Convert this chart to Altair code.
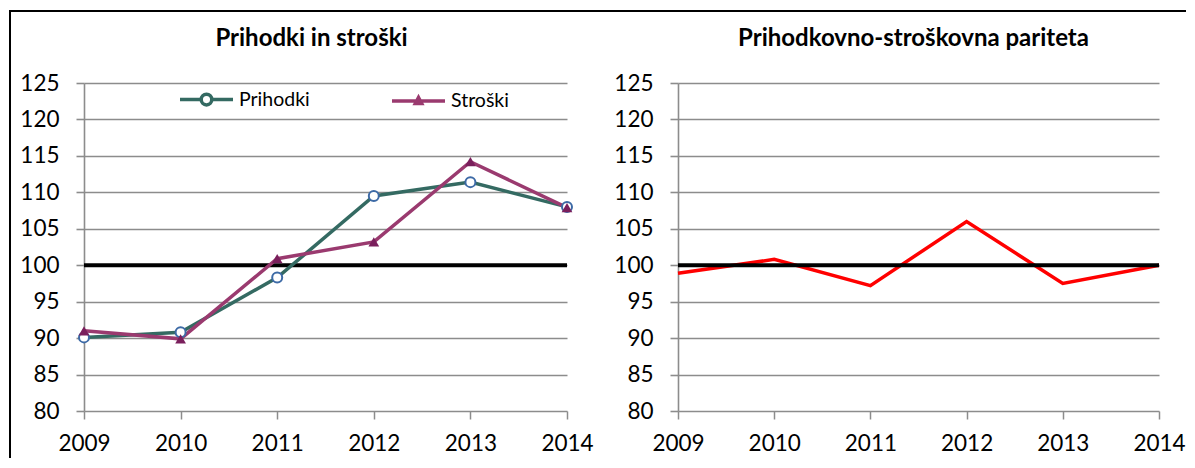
import altair as alt
import pandas as pd

years = ["2009", "2010", "2011", "2012", "2013", "2014"]
prihodki = [90.1, 90.8, 98.3, 109.5, 111.4, 108.0]
stroski = [91.0, 89.9, 100.9, 103.2, 114.2, 107.9]
pariteta = [98.9, 100.8, 97.2, 106.0, 97.5, 100.0]
ref_100 = [100, 100, 100, 100, 100, 100]
series_names = ["Prihodki", "Stroški"]
y_ticks = [80, 85, 90, 95, 100, 105, 110, 115, 120, 125]

TEAL = "#346A62"
PURPLE = "#9A3A6F"
PURPLE_MARK = "#7A1F5C"
BLUE = "#3D6AA6"
RED = "#FF0000"
GRID = "#8C8C8C"
FONT = "Lato"
LBL = 22.5

W1, W2, H = 483, 481, 328

df_lr = pd.DataFrame({
    "year": years * 2,
    "value": prihodki + stroski,
    "series": [series_names[0]] * 6 + [series_names[1]] * 6,
})
df_p = pd.DataFrame({"year": years, "value": prihodki})
df_s = pd.DataFrame({"year": years, "value": stroski})
df_par = pd.DataFrame({"year": years, "value": pariteta})
df_ref = pd.DataFrame({"year": years, "value": ref_100})
dummy = pd.DataFrame({"a": [0]})

x_enc = alt.X("year:O", scale=alt.Scale(type="point", padding=0),
              axis=alt.Axis(title=None, labelAngle=0, domain=False, grid=False,
                            tickColor=GRID, tickWidth=1.5, tickSize=8,
                            labelPadding=13, labelFont=FONT, labelFontSize=LBL,
                            labelColor="black"))
y_enc = alt.Y("value:Q", scale=alt.Scale(domain=[80, 125], nice=False, zero=False),
              axis=alt.Axis(title=None, values=y_ticks, grid=True, gridColor=GRID,
                            gridWidth=1.6, domain=True, domainColor=GRID,
                            domainWidth=1.6, tickColor=GRID, tickWidth=1.6,
                            tickSize=8, labelPadding=17, labelFont=FONT,
                            labelFontSize=LBL, labelColor="black"))

circle_path = ("M-1,0L-0.2,0M0.2,0L1,0M0.2,0A0.2 0.2 0 1 1 -0.2,0"
               "A0.2 0.2 0 1 1 0.2,0Z")
tri_path = "M-1,0L1,0M-0.12,0.1L0,-0.13L0.12,0.1Z"

legend = alt.Legend(
    title=None, orient="none", legendX=94, legendY=-12, direction="horizontal",
    symbolSize=2809, symbolStrokeWidth=3.5, labelFont=FONT, labelFontSize=19.5,
    labelColor="black", labelOffset=4, columnPadding=75, padding=0,
    symbolType=alt.ExprRef(expr=f"datum.value === 'Prihodki' ? '{circle_path}' : '{tri_path}'"),
    symbolFillColor=alt.ExprRef(expr=f"datum.value === 'Prihodki' ? '#ffffff' : '{PURPLE_MARK}'"),
    symbolOpacity=1,
)

ref_left = alt.Chart(df_ref).mark_line(color="black", strokeWidth=4).encode(x=x_enc, y=y_enc)
lines = alt.Chart(df_lr).mark_line(strokeWidth=3.5).encode(
    x=x_enc, y=y_enc,
    color=alt.Color("series:N", scale=alt.Scale(domain=series_names, range=[TEAL, PURPLE]),
                    legend=legend),
)
circles = alt.Chart(df_p).mark_point(shape="circle", filled=True, fill="white", stroke=BLUE,
                                     strokeWidth=2, size=100, opacity=1).encode(x=x_enc, y=y_enc)
tris = alt.Chart(df_s).mark_point(shape="triangle-up", filled=True, color=PURPLE_MARK,
                                  size=115, opacity=1).encode(x=x_enc, y=y_enc)

frame_left_v = alt.Chart(dummy).mark_rule(color="black", strokeWidth=2).encode(
    x=alt.value(-74), y=alt.value(-72), y2=alt.value(375))
frame_left_h = alt.Chart(dummy).mark_rule(color="black", strokeWidth=2).encode(
    x=alt.value(-75), x2=alt.value(512), y=alt.value(-72))

title_kw = dict(anchor="middle", frame="group", baseline="middle", offset=-53,
                font=FONT, fontSize=24, fontWeight="bold", color="black")

left = alt.layer(frame_left_v, frame_left_h, ref_left, lines, circles, tris).properties(
    width=W1, height=H, title=alt.TitleParams("Prihodki in stroški", dx=-14, **title_kw))

par_line = alt.Chart(df_par).mark_line(color=RED, strokeWidth=3.5).encode(x=x_enc, y=y_enc)
ref_right = alt.Chart(df_ref).mark_line(color="black", strokeWidth=4).encode(x=x_enc, y=y_enc)
frame_right_h = alt.Chart(dummy).mark_rule(color="black", strokeWidth=2).encode(
    x=alt.value(-92), x2=alt.value(508), y=alt.value(-72))

right = alt.layer(frame_right_h, par_line, ref_right).properties(
    width=W2, height=H,
    title=alt.TitleParams("Prihodkovno-stroškovna pariteta", dx=-5, **title_kw))

chart = alt.hconcat(left, right, spacing=-12).properties(
    padding={"left": 0, "top": 2, "right": 0, "bottom": 0}
).configure_view(stroke=None)

chart.save("out.html", embed_options={"renderer": "svg", "actions": False})
